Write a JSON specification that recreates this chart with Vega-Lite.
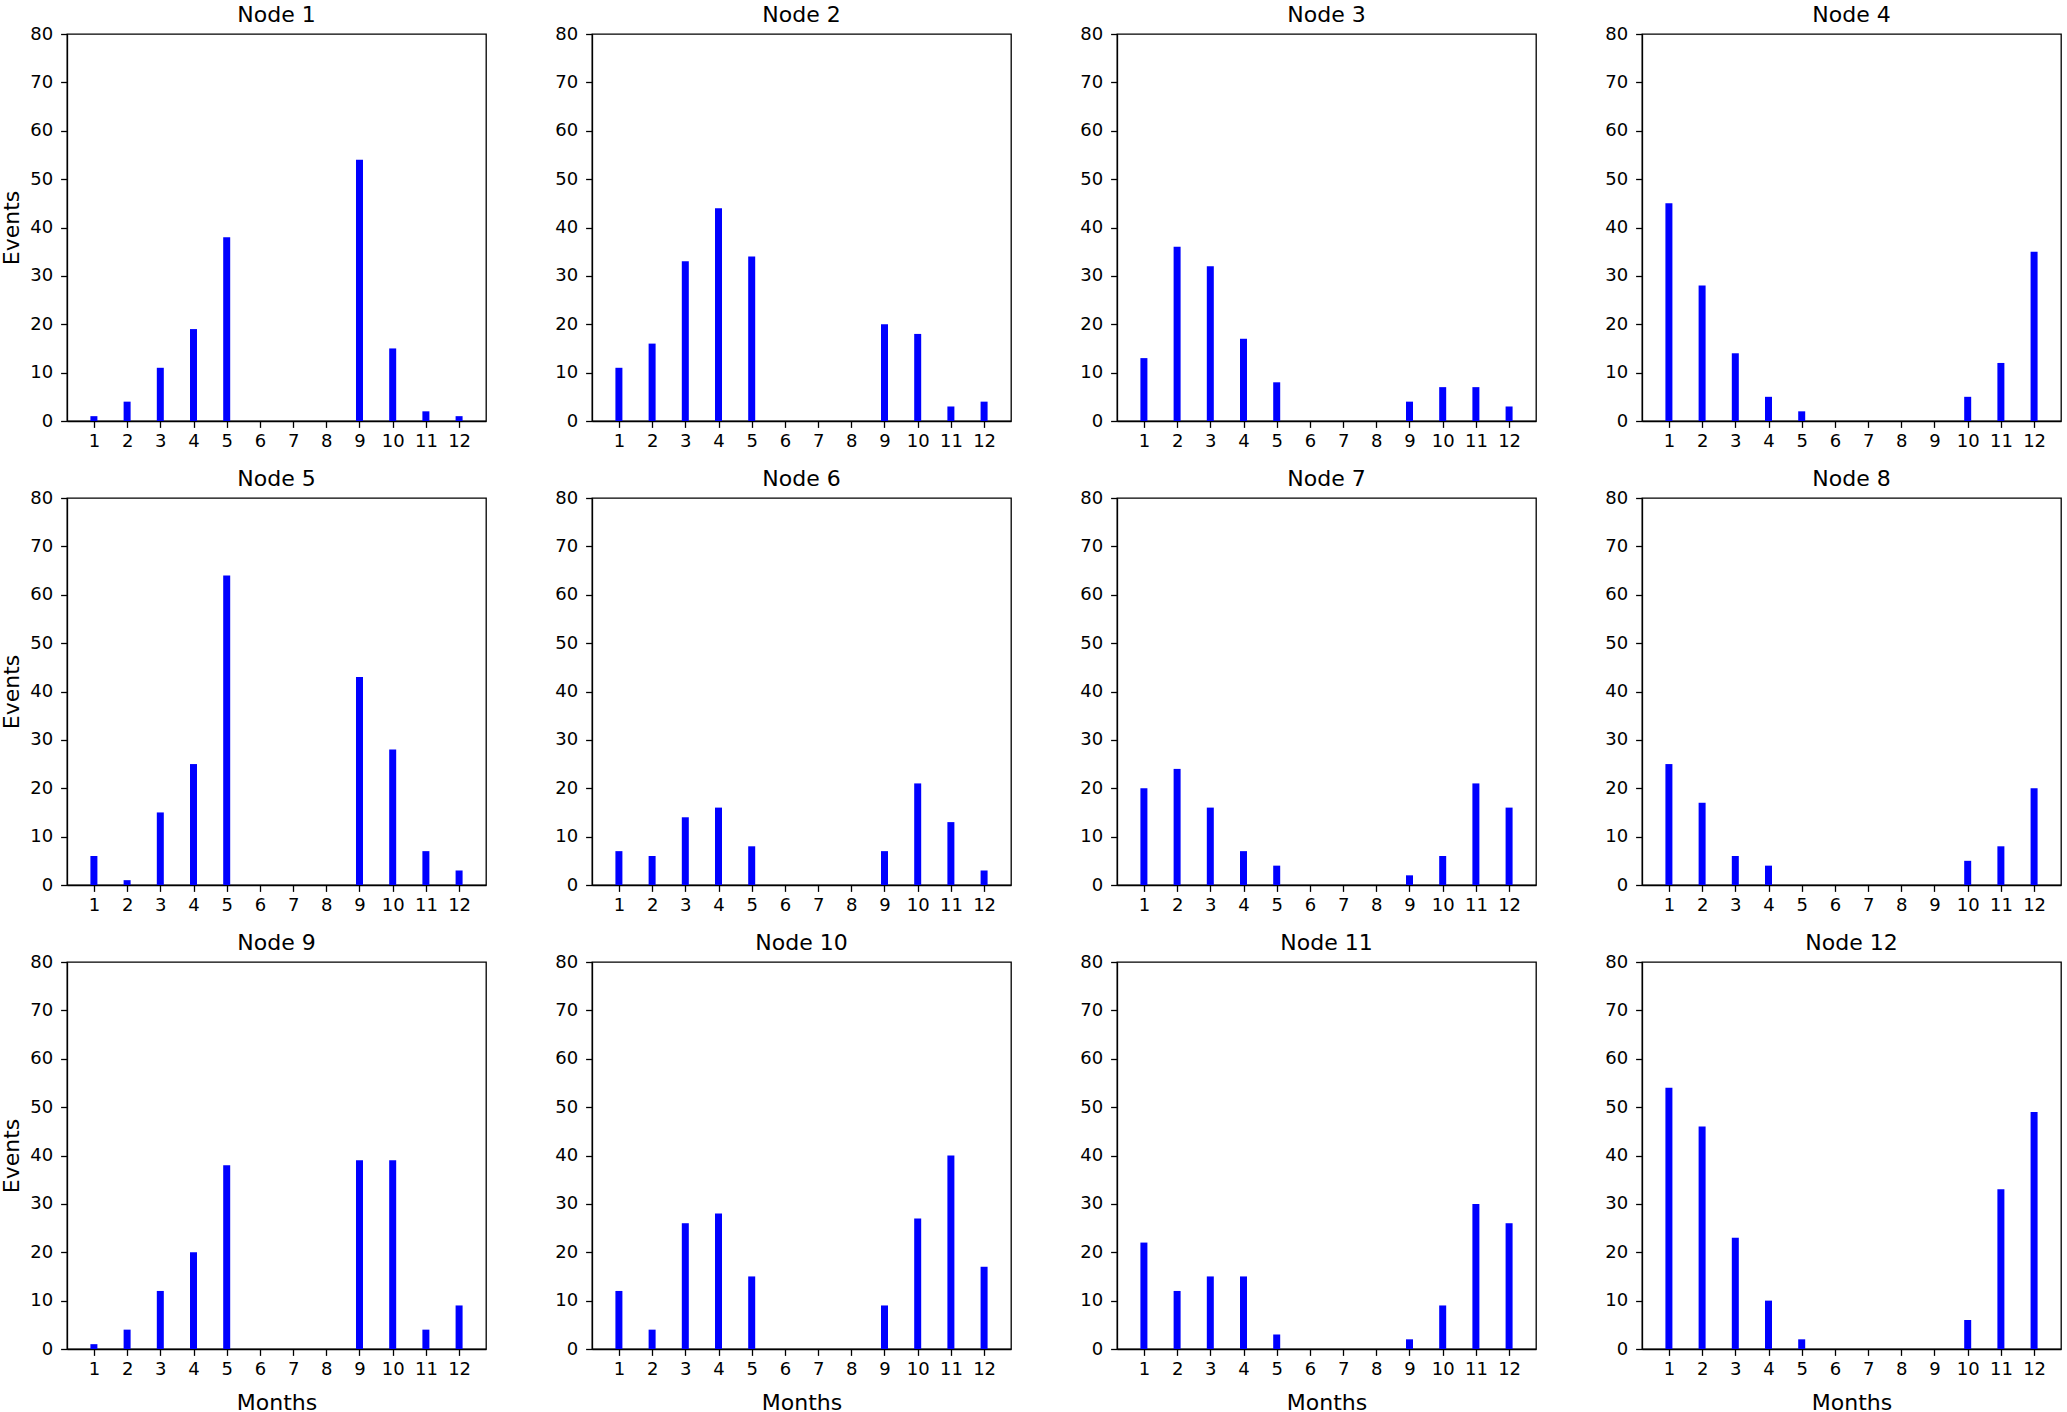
{
  "$schema": "https://vega.github.io/schema/vega-lite/v6.json",
  "background": "white",
  "padding": {"left": 0, "top": 3, "right": 0, "bottom": 0},
  "datasets": {
    "events": [
      {"node": 1, "month": 1, "events": 1}, {"node": 1, "month": 2, "events": 4}, {"node": 1, "month": 3, "events": 11}, {"node": 1, "month": 4, "events": 19}, {"node": 1, "month": 5, "events": 38}, {"node": 1, "month": 6, "events": 0}, {"node": 1, "month": 7, "events": 0}, {"node": 1, "month": 8, "events": 0}, {"node": 1, "month": 9, "events": 54}, {"node": 1, "month": 10, "events": 15}, {"node": 1, "month": 11, "events": 2}, {"node": 1, "month": 12, "events": 1},
      {"node": 2, "month": 1, "events": 11}, {"node": 2, "month": 2, "events": 16}, {"node": 2, "month": 3, "events": 33}, {"node": 2, "month": 4, "events": 44}, {"node": 2, "month": 5, "events": 34}, {"node": 2, "month": 6, "events": 0}, {"node": 2, "month": 7, "events": 0}, {"node": 2, "month": 8, "events": 0}, {"node": 2, "month": 9, "events": 20}, {"node": 2, "month": 10, "events": 18}, {"node": 2, "month": 11, "events": 3}, {"node": 2, "month": 12, "events": 4},
      {"node": 3, "month": 1, "events": 13}, {"node": 3, "month": 2, "events": 36}, {"node": 3, "month": 3, "events": 32}, {"node": 3, "month": 4, "events": 17}, {"node": 3, "month": 5, "events": 8}, {"node": 3, "month": 6, "events": 0}, {"node": 3, "month": 7, "events": 0}, {"node": 3, "month": 8, "events": 0}, {"node": 3, "month": 9, "events": 4}, {"node": 3, "month": 10, "events": 7}, {"node": 3, "month": 11, "events": 7}, {"node": 3, "month": 12, "events": 3},
      {"node": 4, "month": 1, "events": 45}, {"node": 4, "month": 2, "events": 28}, {"node": 4, "month": 3, "events": 14}, {"node": 4, "month": 4, "events": 5}, {"node": 4, "month": 5, "events": 2}, {"node": 4, "month": 6, "events": 0}, {"node": 4, "month": 7, "events": 0}, {"node": 4, "month": 8, "events": 0}, {"node": 4, "month": 9, "events": 0}, {"node": 4, "month": 10, "events": 5}, {"node": 4, "month": 11, "events": 12}, {"node": 4, "month": 12, "events": 35},
      {"node": 5, "month": 1, "events": 6}, {"node": 5, "month": 2, "events": 1}, {"node": 5, "month": 3, "events": 15}, {"node": 5, "month": 4, "events": 25}, {"node": 5, "month": 5, "events": 64}, {"node": 5, "month": 6, "events": 0}, {"node": 5, "month": 7, "events": 0}, {"node": 5, "month": 8, "events": 0}, {"node": 5, "month": 9, "events": 43}, {"node": 5, "month": 10, "events": 28}, {"node": 5, "month": 11, "events": 7}, {"node": 5, "month": 12, "events": 3},
      {"node": 6, "month": 1, "events": 7}, {"node": 6, "month": 2, "events": 6}, {"node": 6, "month": 3, "events": 14}, {"node": 6, "month": 4, "events": 16}, {"node": 6, "month": 5, "events": 8}, {"node": 6, "month": 6, "events": 0}, {"node": 6, "month": 7, "events": 0}, {"node": 6, "month": 8, "events": 0}, {"node": 6, "month": 9, "events": 7}, {"node": 6, "month": 10, "events": 21}, {"node": 6, "month": 11, "events": 13}, {"node": 6, "month": 12, "events": 3},
      {"node": 7, "month": 1, "events": 20}, {"node": 7, "month": 2, "events": 24}, {"node": 7, "month": 3, "events": 16}, {"node": 7, "month": 4, "events": 7}, {"node": 7, "month": 5, "events": 4}, {"node": 7, "month": 6, "events": 0}, {"node": 7, "month": 7, "events": 0}, {"node": 7, "month": 8, "events": 0}, {"node": 7, "month": 9, "events": 2}, {"node": 7, "month": 10, "events": 6}, {"node": 7, "month": 11, "events": 21}, {"node": 7, "month": 12, "events": 16},
      {"node": 8, "month": 1, "events": 25}, {"node": 8, "month": 2, "events": 17}, {"node": 8, "month": 3, "events": 6}, {"node": 8, "month": 4, "events": 4}, {"node": 8, "month": 5, "events": 0}, {"node": 8, "month": 6, "events": 0}, {"node": 8, "month": 7, "events": 0}, {"node": 8, "month": 8, "events": 0}, {"node": 8, "month": 9, "events": 0}, {"node": 8, "month": 10, "events": 5}, {"node": 8, "month": 11, "events": 8}, {"node": 8, "month": 12, "events": 20},
      {"node": 9, "month": 1, "events": 1}, {"node": 9, "month": 2, "events": 4}, {"node": 9, "month": 3, "events": 12}, {"node": 9, "month": 4, "events": 20}, {"node": 9, "month": 5, "events": 38}, {"node": 9, "month": 6, "events": 0}, {"node": 9, "month": 7, "events": 0}, {"node": 9, "month": 8, "events": 0}, {"node": 9, "month": 9, "events": 39}, {"node": 9, "month": 10, "events": 39}, {"node": 9, "month": 11, "events": 4}, {"node": 9, "month": 12, "events": 9},
      {"node": 10, "month": 1, "events": 12}, {"node": 10, "month": 2, "events": 4}, {"node": 10, "month": 3, "events": 26}, {"node": 10, "month": 4, "events": 28}, {"node": 10, "month": 5, "events": 15}, {"node": 10, "month": 6, "events": 0}, {"node": 10, "month": 7, "events": 0}, {"node": 10, "month": 8, "events": 0}, {"node": 10, "month": 9, "events": 9}, {"node": 10, "month": 10, "events": 27}, {"node": 10, "month": 11, "events": 40}, {"node": 10, "month": 12, "events": 17},
      {"node": 11, "month": 1, "events": 22}, {"node": 11, "month": 2, "events": 12}, {"node": 11, "month": 3, "events": 15}, {"node": 11, "month": 4, "events": 15}, {"node": 11, "month": 5, "events": 3}, {"node": 11, "month": 6, "events": 0}, {"node": 11, "month": 7, "events": 0}, {"node": 11, "month": 8, "events": 0}, {"node": 11, "month": 9, "events": 2}, {"node": 11, "month": 10, "events": 9}, {"node": 11, "month": 11, "events": 30}, {"node": 11, "month": 12, "events": 26},
      {"node": 12, "month": 1, "events": 54}, {"node": 12, "month": 2, "events": 46}, {"node": 12, "month": 3, "events": 23}, {"node": 12, "month": 4, "events": 10}, {"node": 12, "month": 5, "events": 2}, {"node": 12, "month": 6, "events": 0}, {"node": 12, "month": 7, "events": 0}, {"node": 12, "month": 8, "events": 0}, {"node": 12, "month": 9, "events": 0}, {"node": 12, "month": 10, "events": 6}, {"node": 12, "month": 11, "events": 33}, {"node": 12, "month": 12, "events": 49}
    ]
  },
  "columns": 4,
  "spacing": {"row": 77, "column": 106},
  "bounds": "flush",
  "concat": [
    {"width": 419, "height": 387, "title": "Node 1", "data": {"name": "events"}, "transform": [{"filter": {"field": "node", "equal": 1}}], "mark": {"type": "bar", "size": 7, "color": "#0000ff"},
     "encoding": {"x": {"field": "month", "type": "quantitative", "scale": {"domain": [0.34, 12.66], "nice": false, "zero": false}, "axis": {"values": [1,2,3,4,5,6,7,8,9,10,11,12], "title": null}},
                  "y": {"field": "events", "type": "quantitative", "scale": {"domain": [0, 80], "nice": false}, "axis": {"values": [0,10,20,30,40,50,60,70,80], "title": "Events"}}}},
    {"width": 419, "height": 387, "title": "Node 2", "data": {"name": "events"}, "transform": [{"filter": {"field": "node", "equal": 2}}], "mark": {"type": "bar", "size": 7, "color": "#0000ff"},
     "encoding": {"x": {"field": "month", "type": "quantitative", "scale": {"domain": [0.34, 12.66], "nice": false, "zero": false}, "axis": {"values": [1,2,3,4,5,6,7,8,9,10,11,12], "title": null}},
                  "y": {"field": "events", "type": "quantitative", "scale": {"domain": [0, 80], "nice": false}, "axis": {"values": [0,10,20,30,40,50,60,70,80], "title": null}}}},
    {"width": 419, "height": 387, "title": "Node 3", "data": {"name": "events"}, "transform": [{"filter": {"field": "node", "equal": 3}}], "mark": {"type": "bar", "size": 7, "color": "#0000ff"},
     "encoding": {"x": {"field": "month", "type": "quantitative", "scale": {"domain": [0.34, 12.66], "nice": false, "zero": false}, "axis": {"values": [1,2,3,4,5,6,7,8,9,10,11,12], "title": null}},
                  "y": {"field": "events", "type": "quantitative", "scale": {"domain": [0, 80], "nice": false}, "axis": {"values": [0,10,20,30,40,50,60,70,80], "title": null}}}},
    {"width": 419, "height": 387, "title": "Node 4", "data": {"name": "events"}, "transform": [{"filter": {"field": "node", "equal": 4}}], "mark": {"type": "bar", "size": 7, "color": "#0000ff"},
     "encoding": {"x": {"field": "month", "type": "quantitative", "scale": {"domain": [0.34, 12.66], "nice": false, "zero": false}, "axis": {"values": [1,2,3,4,5,6,7,8,9,10,11,12], "title": null}},
                  "y": {"field": "events", "type": "quantitative", "scale": {"domain": [0, 80], "nice": false}, "axis": {"values": [0,10,20,30,40,50,60,70,80], "title": null}}}},
    {"width": 419, "height": 387, "title": "Node 5", "data": {"name": "events"}, "transform": [{"filter": {"field": "node", "equal": 5}}], "mark": {"type": "bar", "size": 7, "color": "#0000ff"},
     "encoding": {"x": {"field": "month", "type": "quantitative", "scale": {"domain": [0.34, 12.66], "nice": false, "zero": false}, "axis": {"values": [1,2,3,4,5,6,7,8,9,10,11,12], "title": null}},
                  "y": {"field": "events", "type": "quantitative", "scale": {"domain": [0, 80], "nice": false}, "axis": {"values": [0,10,20,30,40,50,60,70,80], "title": "Events"}}}},
    {"width": 419, "height": 387, "title": "Node 6", "data": {"name": "events"}, "transform": [{"filter": {"field": "node", "equal": 6}}], "mark": {"type": "bar", "size": 7, "color": "#0000ff"},
     "encoding": {"x": {"field": "month", "type": "quantitative", "scale": {"domain": [0.34, 12.66], "nice": false, "zero": false}, "axis": {"values": [1,2,3,4,5,6,7,8,9,10,11,12], "title": null}},
                  "y": {"field": "events", "type": "quantitative", "scale": {"domain": [0, 80], "nice": false}, "axis": {"values": [0,10,20,30,40,50,60,70,80], "title": null}}}},
    {"width": 419, "height": 387, "title": "Node 7", "data": {"name": "events"}, "transform": [{"filter": {"field": "node", "equal": 7}}], "mark": {"type": "bar", "size": 7, "color": "#0000ff"},
     "encoding": {"x": {"field": "month", "type": "quantitative", "scale": {"domain": [0.34, 12.66], "nice": false, "zero": false}, "axis": {"values": [1,2,3,4,5,6,7,8,9,10,11,12], "title": null}},
                  "y": {"field": "events", "type": "quantitative", "scale": {"domain": [0, 80], "nice": false}, "axis": {"values": [0,10,20,30,40,50,60,70,80], "title": null}}}},
    {"width": 419, "height": 387, "title": "Node 8", "data": {"name": "events"}, "transform": [{"filter": {"field": "node", "equal": 8}}], "mark": {"type": "bar", "size": 7, "color": "#0000ff"},
     "encoding": {"x": {"field": "month", "type": "quantitative", "scale": {"domain": [0.34, 12.66], "nice": false, "zero": false}, "axis": {"values": [1,2,3,4,5,6,7,8,9,10,11,12], "title": null}},
                  "y": {"field": "events", "type": "quantitative", "scale": {"domain": [0, 80], "nice": false}, "axis": {"values": [0,10,20,30,40,50,60,70,80], "title": null}}}},
    {"width": 419, "height": 387, "title": "Node 9", "data": {"name": "events"}, "transform": [{"filter": {"field": "node", "equal": 9}}], "mark": {"type": "bar", "size": 7, "color": "#0000ff"},
     "encoding": {"x": {"field": "month", "type": "quantitative", "scale": {"domain": [0.34, 12.66], "nice": false, "zero": false}, "axis": {"values": [1,2,3,4,5,6,7,8,9,10,11,12], "title": "Months"}},
                  "y": {"field": "events", "type": "quantitative", "scale": {"domain": [0, 80], "nice": false}, "axis": {"values": [0,10,20,30,40,50,60,70,80], "title": "Events"}}}},
    {"width": 419, "height": 387, "title": "Node 10", "data": {"name": "events"}, "transform": [{"filter": {"field": "node", "equal": 10}}], "mark": {"type": "bar", "size": 7, "color": "#0000ff"},
     "encoding": {"x": {"field": "month", "type": "quantitative", "scale": {"domain": [0.34, 12.66], "nice": false, "zero": false}, "axis": {"values": [1,2,3,4,5,6,7,8,9,10,11,12], "title": "Months"}},
                  "y": {"field": "events", "type": "quantitative", "scale": {"domain": [0, 80], "nice": false}, "axis": {"values": [0,10,20,30,40,50,60,70,80], "title": null}}}},
    {"width": 419, "height": 387, "title": "Node 11", "data": {"name": "events"}, "transform": [{"filter": {"field": "node", "equal": 11}}], "mark": {"type": "bar", "size": 7, "color": "#0000ff"},
     "encoding": {"x": {"field": "month", "type": "quantitative", "scale": {"domain": [0.34, 12.66], "nice": false, "zero": false}, "axis": {"values": [1,2,3,4,5,6,7,8,9,10,11,12], "title": "Months"}},
                  "y": {"field": "events", "type": "quantitative", "scale": {"domain": [0, 80], "nice": false}, "axis": {"values": [0,10,20,30,40,50,60,70,80], "title": null}}}},
    {"width": 419, "height": 387, "title": "Node 12", "data": {"name": "events"}, "transform": [{"filter": {"field": "node", "equal": 12}}], "mark": {"type": "bar", "size": 7, "color": "#0000ff"},
     "encoding": {"x": {"field": "month", "type": "quantitative", "scale": {"domain": [0.34, 12.66], "nice": false, "zero": false}, "axis": {"values": [1,2,3,4,5,6,7,8,9,10,11,12], "title": "Months"}},
                  "y": {"field": "events", "type": "quantitative", "scale": {"domain": [0, 80], "nice": false}, "axis": {"values": [0,10,20,30,40,50,60,70,80], "title": null}}}}
  ],
  "config": {
    "font": "DejaVu Sans",
    "view": {"stroke": "#000000", "strokeWidth": 1.3},
    "title": {"font": "DejaVu Sans", "fontSize": 22, "fontWeight": "normal", "color": "#000000", "anchor": "middle", "frame": "group", "offset": -2, "baseline": "bottom"},
    "axis": {
      "grid": false,
      "labelFont": "DejaVu Sans", "labelFontSize": 18, "labelColor": "#000000", "labelOverlap": false, "labelFlush": false,
      "labelPadding": 5,
      "tickColor": "#000000", "tickSize": 6.4, "tickWidth": 1.3,
      "domainColor": "#000000", "domainWidth": 1.3,
      "titleFont": "DejaVu Sans", "titleFontSize": 22, "titleFontWeight": "normal", "titleColor": "#000000"
    },
    "axisY": {"titlePadding": 6, "labelPadding": 8},
    "axisX": {"titlePadding": 14}
  }
}
